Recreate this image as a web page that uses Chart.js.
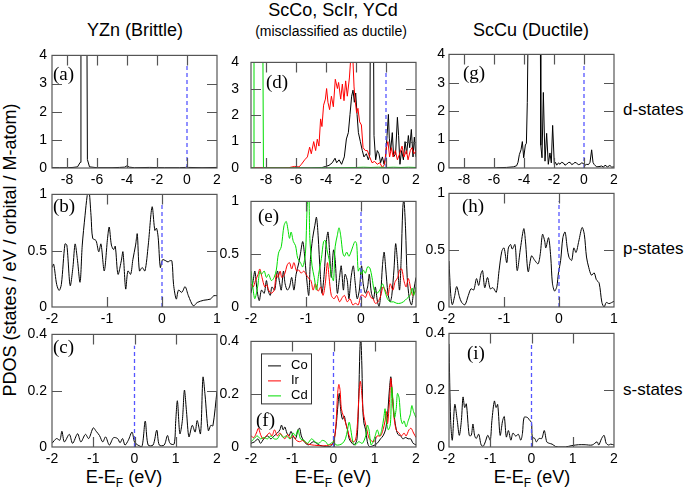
<!DOCTYPE html>
<html>
<head>
<meta charset="utf-8">
<script src="https://cdn.jsdelivr.net/npm/chart.js@4"></script>
<style>
body { margin: 0; background: #fff; width: 700px; height: 493px; position: relative; overflow: hidden; font-family: "Liberation Sans", Arial, sans-serif; }
.panel { position: absolute; }
.txt { position: absolute; white-space: nowrap; color: #000; line-height: 1; transform: translate(-50%, -50%); }
.row { position: absolute; white-space: nowrap; color: #000; line-height: 1; font-size: 17px; transform: translateY(-50%); }
.xl sub { font-size: 12px; vertical-align: -4px; line-height: 0; }
</style>
</head>
<body>
<div class="txt" style="left:135px;top:30px;font-size:18px">YZn (Brittle)</div>
<div class="txt" style="left:333px;top:10px;font-size:18px">ScCo, ScIr, YCd</div>
<div class="txt" style="left:331px;top:31px;font-size:14px">(misclassified as ductile)</div>
<div class="txt" style="left:531px;top:30px;font-size:18px">ScCu (Ductile)</div>
<div class="row" style="left:623px;top:109px">d-states</div>
<div class="row" style="left:623px;top:248px">p-states</div>
<div class="row" style="left:623px;top:389px">s-states</div>
<div class="txt" style="left:10px;top:250px;font-size:18px;transform:translate(-50%,-50%) rotate(-90deg)">PDOS (states / eV / orbital / M-atom)</div>
<div class="txt xl" style="left:124px;top:477px;font-size:18px">E-E<sub>F</sub> (eV)</div>
<div class="txt xl" style="left:333px;top:477px;font-size:18px">E-E<sub>F</sub> (eV)</div>
<div class="txt xl" style="left:532px;top:477px;font-size:18px">E-E<sub>F</sub> (eV)</div>

<script>
// axis ranges and ticks per row (d, p, s states)
const xRanges = [[-9, 2], [-2, 1], [-2, 2]];
const yMax = [4, 1, 0.4];
const xTicksD = [-8, -6, -4, -2, 0, 2];
const xTicksP = [-2, -1, 0, 1];
const xTicksS = [-2, -1, 0, 1, 2];
const yTicksD = [0, 1, 2, 3, 4];
const yTicksP = [0, 0.5, 1];
const yTicksS = [0, 0.2, 0.4];
const fermiTop = [3.62, 0.93, 0.36];

// YZn (brittle)
const yznD = [[-9,0.01],[-8.5,0.01],[-8,0.01],[-7.6,0.02],[-7.3,0.04],[-7.12,0.2],[-7.07,6],[-6.68,6],[-6.64,0.3],[-6.5,0.04],[-6,0.01],[-5,0.01],[-4.5,0.02],[-4.15,0.03],[-4,0.08],[-3.85,0.03],[-3.5,0.01],[-2.5,0.02],[-1.5,0.01],[-0.5,0.01],[-0.1,0.02],[0,0.05],[0.1,0.02],[1,0.01],[2,0.02]];
const yznP = [[-2,0.35],[-1.97,0.38],[-1.915,0.2],[-1.87,0.147],[-1.83,0.2],[-1.764,0.56],[-1.73,0.55],[-1.67,0.19],[-1.62,0.35],[-1.58,0.56],[-1.54,0.43],[-1.49,0.22],[-1.45,0.55],[-1.4,0.81],[-1.36,0.99],[-1.33,1.05],[-1.29,0.81],[-1.26,0.61],[-1.2,0.59],[-1.15,0.49],[-1.11,0.56],[-1.05,0.32],[-0.99,0.61],[-0.96,0.71],[-0.92,0.55],[-0.88,0.51],[-0.85,0.54],[-0.8,0.29],[-0.74,0.41],[-0.71,0.49],[-0.66,0.16],[-0.62,0.32],[-0.57,0.29],[-0.53,0.42],[-0.48,0.55],[-0.45,0.65],[-0.41,0.32],[-0.36,0.35],[-0.31,0.32],[-0.25,0.55],[-0.18,0.89],[-0.13,0.68],[-0.1,0.7],[-0.07,0.62],[-0.03,0.35],[0.01,0.42],[0.07,0.41],[0.11,0.4],[0.14,0.41],[0.18,0.41],[0.21,0.2],[0.26,0.07],[0.3,0.15],[0.36,0.13],[0.42,0.18],[0.48,0.1],[0.57,0.01],[0.64,0.04],[0.76,0.06],[0.88,0.07],[0.94,0.1],[1,0.1]];
const yznS = [[-2,0.013],[-1.89,0.03],[-1.81,0.024],[-1.76,0.056],[-1.7,0.018],[-1.58,0.045],[-1.5,0.013],[-1.38,0.047],[-1.3,0.018],[-1.19,0.045],[-1.11,0.03],[-1,0.068],[-0.93,0.056],[-0.85,0.041],[-0.77,0.018],[-0.7,0.036],[-0.61,0.007],[-0.51,0.033],[-0.41,0.03],[-0.35,0.015],[-0.29,0.03],[-0.23,0.007],[-0.15,0.024],[-0.06,0.053],[0,0.018],[0.08,0.007],[0.18,0.001],[0.26,0.092],[0.33,0.007],[0.45,0.007],[0.54,0.06],[0.6,0.007],[0.72,0.007],[0.8,0.041],[0.86,0.013],[0.96,0.01],[1,0.094],[1.04,0.164],[1.1,0.047],[1.16,0.094],[1.21,0.202],[1.26,0.127],[1.32,0.036],[1.4,0.077],[1.47,0.053],[1.52,0.094],[1.6,0.047],[1.66,0.248],[1.71,0.185],[1.79,0.058],[1.85,0.077],[1.9,0.075],[2,0.199]];

// ScCo / ScIr / YCd (misclassified)
const coD = [[-9,0],[-5,0],[-4.3,0.01],[-4.02,0.06],[-3.8,0.1],[-3.58,0.2],[-3.4,0.37],[-3.29,0.2],[-3.13,0.31],[-2.96,0.14],[-2.78,0.42],[-2.64,1.1],[-2.51,1.34],[-2.4,2.03],[-2.29,2.72],[-2.2,2.95],[-2.11,2.49],[-2.02,2.84],[-1.93,2.03],[-1.84,1.34],[-1.71,1.0],[-1.58,0.66],[-1.47,0.42],[-1.31,0.54],[-1.18,0.31],[-1.08,0.5],[-1.04,6],[-0.84,6],[-0.8,1.23],[-0.69,0.31],[-0.58,0.66],[-0.47,0.54],[-0.36,0.2],[-0.24,0.42],[-0.13,0.14],[-0.02,0.42],[0.07,1.23],[0.16,2.03],[0.22,1.13],[0.31,0.66],[0.42,1.34],[0.51,0.42],[0.64,0.54],[0.76,1.92],[0.84,1.23],[0.93,0.14],[1.04,0.66],[1.16,0.31],[1.27,1.0],[1.38,0.54],[1.49,1.23],[1.58,0.77],[1.69,1.46],[1.8,0.42],[1.89,1.17],[2,0.42]];
const irD = [[-9,0],[-7,0],[-6.5,0.01],[-6.09,0.06],[-5.8,0.04],[-5.64,0.14],[-5.42,0.31],[-5.24,0.42],[-5.09,0.79],[-4.98,0.54],[-4.82,1.0],[-4.69,0.66],[-4.58,1.09],[-4.47,0.83],[-4.36,1.86],[-4.27,1.57],[-4.16,2.38],[-4.04,2.61],[-3.96,3.01],[-3.87,2.49],[-3.76,2.21],[-3.64,2.72],[-3.51,2.32],[-3.38,3.36],[-3.24,3.01],[-3.16,3.24],[-3.02,2.61],[-2.91,3.18],[-2.8,2.55],[-2.69,3.3],[-2.58,2.72],[-2.44,3.41],[-2.31,4.5],[-2.22,4.3],[-2.13,3.07],[-2.04,2.49],[-1.96,2.09],[-1.87,2.26],[-1.76,1.75],[-1.64,1.63],[-1.53,0.77],[-1.38,0.66],[-1.24,0.66],[-1.09,0.42],[-0.93,0.2],[-0.76,0.25],[-0.58,0.14],[-0.42,0.2],[-0.24,0.02],[-0.09,0.14],[0.02,0.77],[0.13,1.0],[0.24,0.42],[0.36,0.77],[0.47,0.42],[0.62,0.66],[0.76,0.31],[0.91,0.54],[1.07,0.83],[1.2,0.42],[1.36,0.66],[1.47,0.31],[1.62,0.66],[1.73,0.77],[1.87,0.54],[2,0.66]];
const cdD = [[-9,0],[-8.85,0.01],[-8.8,6],[-8.22,6],[-8.17,0.02],[-8,0],[-5,0],[-3,0.01],[-2,0.02],[-1.5,0.03],[-1,0.02],[-0.5,0.03],[0,0.02],[0.5,0.03],[1,0.02],[1.5,0.03],[2,0.02]];

const coP = [[-2,0.13],[-1.96,0.25],[-1.93,0.34],[-1.89,0.16],[-1.85,0.06],[-1.81,0.16],[-1.76,0.13],[-1.72,0.25],[-1.69,0.16],[-1.65,0.11],[-1.62,0.19],[-1.57,0.16],[-1.52,0.34],[-1.48,0.23],[-1.45,0.16],[-1.41,0.34],[-1.38,0.22],[-1.34,0.16],[-1.3,0.19],[-1.26,0.28],[-1.22,0.16],[-1.18,0.31],[-1.13,0.42],[-1.1,0.51],[-1.06,0.62],[-1.03,0.51],[-0.99,0.28],[-0.95,0.11],[-0.92,0.45],[-0.88,0.65],[-0.84,0.77],[-0.81,0.85],[-0.78,0.68],[-0.74,0.31],[-0.71,0.13],[-0.67,0.31],[-0.63,0.62],[-0.6,0.71],[-0.57,0.51],[-0.54,0.28],[-0.5,0.54],[-0.47,0.45],[-0.43,0.13],[-0.39,0.28],[-0.36,0.39],[-0.32,0.16],[-0.29,0.31],[-0.25,0.25],[-0.22,0.078],[-0.18,0.28],[-0.14,0.39],[-0.11,0.25],[-0.07,0.078],[-0.03,0.16],[0.01,0.39],[0.04,0.22],[0.08,0.13],[0.12,0.19],[0.15,0.31],[0.19,0.13],[0.23,0.078],[0.26,0.19],[0.3,0.049],[0.33,0.005],[0.36,0.13],[0.39,0.39],[0.42,0.52],[0.45,0.36],[0.49,0.13],[0.53,0.049],[0.56,0.11],[0.6,0.36],[0.63,0.6],[0.66,0.45],[0.7,0.16],[0.73,0.45],[0.76,0.94],[0.78,1.02],[0.81,0.74],[0.84,0.28],[0.88,0.078],[0.92,0.02],[0.96,0.16],[1,0.28]];
const irP = [[-2,0.22],[-1.96,0.19],[-1.92,0.25],[-1.87,0.31],[-1.84,0.36],[-1.8,0.28],[-1.75,0.19],[-1.71,0.21],[-1.68,0.16],[-1.63,0.13],[-1.58,0.16],[-1.54,0.31],[-1.51,0.28],[-1.47,0.34],[-1.44,0.28],[-1.39,0.31],[-1.34,0.4],[-1.3,0.42],[-1.26,0.36],[-1.22,0.42],[-1.17,0.34],[-1.13,0.35],[-1.09,0.32],[-1.04,0.34],[-1,0.31],[-0.95,0.27],[-0.91,0.25],[-0.87,0.16],[-0.83,0.22],[-0.78,0.15],[-0.73,0.19],[-0.69,0.11],[-0.65,0.22],[-0.61,0.42],[-0.58,0.28],[-0.54,0.11],[-0.49,0.078],[-0.44,0.11],[-0.39,0.049],[-0.34,0.09],[-0.3,0.11],[-0.25,0.049],[-0.2,0.078],[-0.15,0.02],[-0.1,0.035],[-0.05,0.02],[0,0.11],[0.04,0.11],[0.08,0.09],[0.13,0.15],[0.18,0.09],[0.22,0.078],[0.26,0.035],[0.31,0.049],[0.36,0.11],[0.4,0.19],[0.44,0.16],[0.49,0.11],[0.53,0.22],[0.58,0.16],[0.62,0.24],[0.67,0.28],[0.7,0.35],[0.74,0.36],[0.78,0.25],[0.82,0.19],[0.86,0.27],[0.91,0.16],[0.94,0.11],[1,0.16]];
const cdP = [[-2,0.34],[-1.96,0.16],[-1.93,0.078],[-1.88,0.19],[-1.84,0.34],[-1.81,0.31],[-1.76,0.34],[-1.72,0.28],[-1.68,0.31],[-1.63,0.25],[-1.58,0.28],[-1.54,0.35],[-1.5,0.51],[-1.45,0.57],[-1.4,0.77],[-1.36,0.81],[-1.33,0.74],[-1.3,0.65],[-1.27,0.71],[-1.23,0.62],[-1.19,0.58],[-1.15,0.46],[-1.1,0.42],[-1.06,0.38],[-1.01,0.51],[-0.98,0.94],[-0.95,1.1],[-0.93,0.65],[-0.89,0.39],[-0.85,0.28],[-0.81,0.16],[-0.77,0.31],[-0.72,0.46],[-0.68,0.62],[-0.65,0.63],[-0.61,0.52],[-0.58,0.45],[-0.54,0.31],[-0.5,0.25],[-0.47,0.57],[-0.43,0.68],[-0.4,0.75],[-0.37,0.68],[-0.33,0.51],[-0.3,0.48],[-0.26,0.52],[-0.22,0.48],[-0.19,0.51],[-0.15,0.57],[-0.11,0.62],[-0.08,0.6],[-0.05,0.34],[-0.02,0.37],[0.01,0.31],[0.04,0.35],[0.08,0.32],[0.12,0.38],[0.16,0.37],[0.2,0.28],[0.24,0.16],[0.29,0.13],[0.34,0.16],[0.39,0.22],[0.43,0.16],[0.48,0.078],[0.53,0.049],[0.59,0.049],[0.65,0.035],[0.71,0.035],[0.77,0.049],[0.83,0.078],[0.89,0.11],[0.93,0.18],[0.96,0.11],[1,0.19]];

const coS = [[-2,0.014],[-1.91,0.02],[-1.83,0.031],[-1.77,0.014],[-1.69,0.031],[-1.6,0.042],[-1.52,0.031],[-1.44,0.042],[-1.36,0.053],[-1.3,0.065],[-1.26,0.083],[-1.22,0.065],[-1.18,0.076],[-1.13,0.053],[-1.08,0.042],[-1.03,0.059],[-0.98,0.042],[-0.92,0.031],[-0.86,0.065],[-0.82,0.071],[-0.78,0.042],[-0.71,0.02],[-0.61,0.008],[-0.49,0.02],[-0.41,0.014],[-0.33,0.006],[-0.2,0.002],[-0.08,0.002],[0,0.02],[0.06,0.076],[0.11,0.163],[0.14,0.203],[0.18,0.134],[0.22,0.105],[0.26,0.117],[0.3,0.088],[0.34,0.065],[0.38,0.031],[0.45,0.014],[0.51,0.008],[0.57,0.031],[0.61,0.18],[0.64,0.37],[0.66,0.42],[0.69,0.295],[0.71,0.145],[0.74,0.088],[0.78,0.065],[0.82,0.02],[0.87,0.002],[0.98,0.006],[1.06,0.014],[1.14,0.031],[1.2,0.042],[1.26,0.065],[1.31,0.122],[1.36,0.226],[1.39,0.266],[1.42,0.209],[1.46,0.134],[1.51,0.076],[1.56,0.048],[1.63,0.042],[1.68,0.031],[1.75,0.036],[1.81,0.031],[1.87,0.031],[1.93,0.014],[2,0.008]];
const irS = [[-2,0.042],[-1.93,0.036],[-1.87,0.053],[-1.82,0.071],[-1.77,0.048],[-1.71,0.031],[-1.63,0.042],[-1.55,0.053],[-1.49,0.042],[-1.43,0.065],[-1.36,0.042],[-1.3,0.053],[-1.24,0.042],[-1.18,0.031],[-1.11,0.048],[-1.05,0.031],[-0.98,0.042],[-0.9,0.025],[-0.82,0.02],[-0.74,0.025],[-0.66,0.014],[-0.53,0.008],[-0.4,0.006],[-0.25,0.004],[-0.09,0.008],[0,0.014],[0.06,0.088],[0.1,0.203],[0.13,0.237],[0.16,0.214],[0.19,0.145],[0.24,0.117],[0.29,0.094],[0.34,0.065],[0.38,0.042],[0.45,0.02],[0.53,0.025],[0.58,0.088],[0.62,0.203],[0.65,0.249],[0.68,0.214],[0.72,0.134],[0.76,0.099],[0.81,0.065],[0.87,0.031],[0.98,0.02],[1.06,0.042],[1.14,0.042],[1.2,0.065],[1.25,0.099],[1.28,0.134],[1.31,0.088],[1.36,0.18],[1.39,0.26],[1.42,0.214],[1.46,0.122],[1.52,0.065],[1.59,0.053],[1.65,0.042],[1.71,0.053],[1.76,0.042],[1.83,0.065],[1.88,0.071],[1.94,0.053],[2,0.036]];
const cdS = [[-2,0.02],[-1.93,0.031],[-1.85,0.042],[-1.77,0.031],[-1.69,0.036],[-1.6,0.031],[-1.52,0.042],[-1.44,0.031],[-1.36,0.031],[-1.29,0.048],[-1.22,0.036],[-1.14,0.042],[-1.06,0.031],[-0.98,0.053],[-0.92,0.042],[-0.86,0.065],[-0.8,0.031],[-0.71,0.025],[-0.63,0.014],[-0.53,0.031],[-0.45,0.02],[-0.36,0.014],[-0.27,0.025],[-0.19,0.02],[-0.13,0.008],[-0.06,0.014],[0,0.02],[0.06,0.008],[0.14,0.008],[0.22,0.014],[0.29,0.031],[0.34,0.065],[0.38,0.094],[0.42,0.065],[0.47,0.02],[0.53,0.008],[0.61,0.02],[0.7,0.014],[0.78,0.042],[0.82,0.083],[0.86,0.065],[0.91,0.008],[0.96,0.02],[1.01,0.042],[1.06,0.065],[1.12,0.042],[1.17,0.065],[1.22,0.111],[1.25,0.145],[1.28,0.099],[1.33,0.065],[1.38,0.088],[1.41,0.226],[1.44,0.18],[1.48,0.111],[1.52,0.145],[1.55,0.203],[1.59,0.186],[1.63,0.111],[1.67,0.088],[1.71,0.099],[1.76,0.076],[1.81,0.099],[1.86,0.122],[1.9,0.157],[1.94,0.134],[2,0.111]];

// ScCu (ductile)
const cuD = [[-9,0],[-7,0],[-6,0],[-5.82,0.01],[-5.16,0.02],[-4.71,0.04],[-4.49,0.08],[-4.4,0.2],[-4.31,0.47],[-4.2,0.64],[-4.11,0.93],[-4.02,0.36],[-3.91,0.81],[-3.84,0.87],[-3.78,2.31],[-3.7,6],[-2.92,6],[-2.88,0.8],[-2.8,0.36],[-2.71,2.66],[-2.6,0.24],[-2.49,1.22],[-2.38,0.13],[-2.27,0.53],[-2.18,0.18],[-2.09,1.5],[-1.98,0.13],[-1.9,0.2],[-1.82,0.1],[-1.7,0.18],[-1.6,0.13],[-1.5,0.2],[-1.38,0.18],[-1.27,0.1],[-1.16,0.13],[-1.05,0.19],[-0.93,0.2],[-0.82,0.12],[-0.71,0.15],[-0.6,0.2],[-0.49,0.17],[-0.38,0.12],[-0.27,0.13],[-0.15,0.18],[-0.04,0.16],[0.07,0.1],[0.18,0.13],[0.3,0.12],[0.4,0.2],[0.51,0.64],[0.6,0.2],[0.67,0.13],[0.84,0.04],[1.0,0.05],[1.18,0.07],[1.3,0.03],[1.4,0.1],[1.56,0.04],[1.73,0.09],[1.85,0.03],[2,0.04]];
const cuP = [[-2,0.405],[-1.97,0.12],[-1.94,0.02],[-1.9,0.09],[-1.86,0.18],[-1.81,0.09],[-1.77,0.04],[-1.71,0.02],[-1.65,0.1],[-1.6,0.16],[-1.55,0.15],[-1.5,0.25],[-1.46,0.19],[-1.42,0.29],[-1.39,0.32],[-1.35,0.17],[-1.3,0.26],[-1.25,0.16],[-1.2,0.17],[-1.14,0.13],[-1.09,0.32],[-1.04,0.49],[-1,0.52],[-0.95,0.39],[-0.92,0.52],[-0.88,0.55],[-0.85,0.51],[-0.8,0.55],[-0.76,0.32],[-0.7,0.52],[-0.64,0.69],[-0.61,0.58],[-0.56,0.31],[-0.5,0.45],[-0.44,0.41],[-0.38,0.38],[-0.34,0.47],[-0.3,0.64],[-0.26,0.58],[-0.24,0.52],[-0.19,0.61],[-0.15,0.44],[-0.12,0.21],[-0.08,0.14],[-0.04,0.18],[-0.01,0.3],[0.03,0.41],[0.07,0.61],[0.11,0.66],[0.15,0.52],[0.18,0.44],[0.23,0.41],[0.27,0.52],[0.31,0.48],[0.36,0.58],[0.42,0.7],[0.46,0.64],[0.5,0.44],[0.54,0.35],[0.59,0.28],[0.64,0.3],[0.68,0.24],[0.73,0.21],[0.78,0.04],[0.82,0],[0.86,0.04],[0.91,0.03],[1,0.05]];
const cuS = [[-2,0.363],[-1.96,0.093],[-1.92,0.024],[-1.86,0.15],[-1.8,0.093],[-1.75,0.041],[-1.7,0.093],[-1.66,0.176],[-1.62,0.139],[-1.58,0.152],[-1.51,0.041],[-1.46,0.041],[-1.42,0.081],[-1.38,0.041],[-1.34,0.03],[-1.28,0.045],[-1.22,0.007],[-1.17,0.003],[-1.12,0.018],[-1.06,0.041],[-1,0.024],[-0.96,0.093],[-0.9,0.162],[-0.86,0.139],[-0.82,0.15],[-0.76,0.041],[-0.7,0.093],[-0.66,0.107],[-0.61,0.035],[-0.56,0.058],[-0.5,0.024],[-0.45,0.049],[-0.38,0.038],[-0.32,0.045],[-0.26,0.024],[-0.22,0.047],[-0.18,0.104],[-0.1,0.104],[-0.04,0.093],[0,0.087],[0.02,0.035],[0.08,0.03],[0.12,0.018],[0.18,0.03],[0.25,0.03],[0.31,0.058],[0.37,0.018],[0.43,0.013],[0.5,0.01],[0.58,0.002],[0.66,0],[0.82,0],[0.98,0.005],[1.14,0.008],[1.3,0.008],[1.47,0.007],[1.59,0.018],[1.63,0.007],[1.7,0.03],[1.76,0.041],[1.81,0.013],[1.87,0.007],[1.92,0.01],[2,0.007]];

const colLeft = [52, 251, 449];
const rowTop = [52, 191, 331];
const plotW = 165, plotH = 116;
const yLabelPad = [5, 12, 4];
const rowTension = [0, 0.3, 0.3];

const lineColors = { Co: '#000000', Ir: '#ff0000', Cd: '#00dd00' };

const framePlugin = {
    id: 'frame',
    afterDatasetsDraw(chart, args, opts) {
        const { ctx, chartArea: a, scales: { x, y } } = chart;
        ctx.save();
        ctx.strokeStyle = '#555';
        ctx.lineWidth = 1.2;
        ctx.strokeRect(a.left, a.top, a.right - a.left, a.bottom - a.top);
        ctx.beginPath();
        x.ticks.forEach(t => {
            if (t.value <= x.min || t.value >= x.max) return;
            const px = Math.round(x.getPixelForValue(t.value)) + 0.5;
            ctx.moveTo(px, a.bottom); ctx.lineTo(px, a.bottom - 10);
            ctx.moveTo(px, a.top); ctx.lineTo(px, a.top + 10);
        });
        y.ticks.forEach(t => {
            if (t.value <= y.min || t.value >= y.max) return;
            const py = Math.round(y.getPixelForValue(t.value)) + 0.5;
            ctx.moveTo(a.left, py); ctx.lineTo(a.left + 10, py);
            ctx.moveTo(a.right, py); ctx.lineTo(a.right - 10, py);
        });
        ctx.stroke();

        ctx.fillStyle = '#000';
        ctx.textBaseline = 'middle';
        ctx.font = '19px "Liberation Serif", serif';
        ctx.fillText(opts.tag, a.left + opts.tx, a.top + opts.ty);

        if (opts.legend) {
            const bx = a.left + 10, by = a.top + 12;
            ctx.strokeStyle = '#333';
            ctx.lineWidth = 1;
            ctx.strokeRect(bx + 0.5, by + 0.5, 50, 50);
            ctx.font = '13px "Liberation Sans", Arial, sans-serif';
            chart.data.datasets.filter(d => d.label).forEach((d, i) => {
                const ly = by + 12 + i * 15;
                ctx.strokeStyle = d.borderColor;
                ctx.beginPath();
                ctx.moveTo(bx + 7, ly + 0.5); ctx.lineTo(bx + 20, ly + 0.5);
                ctx.stroke();
                ctx.fillText(d.label, bx + 30, ly);
            });
        }
        ctx.restore();
    }
};

function makePanel(col, row, series, tag, tx, ty, legend) {
    const xTicks = [xTicksD, xTicksP, xTicksS][row];
    const yTicks = [yTicksD, yTicksP, yTicksS][row];
    const div = document.createElement('div');
    div.className = 'panel';
    div.style.left = (colLeft[col] - 50) + 'px';
    div.style.top = (rowTop[row] - 10) + 'px';
    const canvas = document.createElement('canvas');
    canvas.width = plotW + 60;
    canvas.height = plotH + 35;
    div.appendChild(canvas);
    document.body.appendChild(div);

    const datasets = series.map((s, i) => ({
        label: s.name,
        data: s.data.map(([x, y]) => ({ x, y })),
        borderColor: lineColors[s.name],
        borderWidth: 1,
        pointRadius: 0,
        tension: rowTension[row],
        order: 3 - i
    }));
    datasets.push({
        label: '',
        data: [{ x: 0, y: 0 }, { x: 0, y: fermiTop[row] }],
        borderColor: '#5555ff',
        borderWidth: 1.3,
        borderDash: [4, 3],
        pointRadius: 0,
        order: 0
    });

    const tickFont = { size: 14, family: '"Liberation Sans", Arial, sans-serif' };
    new Chart(canvas, {
        type: 'line',
        data: { datasets },
        options: {
            responsive: false,
            animation: false,
            events: [],
            layout: { padding: { left: 0, right: 10, top: 10, bottom: 0 } },
            plugins: {
                legend: { display: false },
                tooltip: { enabled: false },
                frame: { tag, tx, ty, legend }
            },
            scales: {
                x: {
                    type: 'linear',
                    min: xRanges[row][0],
                    max: xRanges[row][1],
                    afterBuildTicks: s => { s.ticks = xTicks.map(v => ({ value: v })); },
                    afterFit: s => { s.height = 25; },
                    grid: { display: false, drawTicks: false },
                    border: { display: false },
                    ticks: { color: '#000', font: tickFont, padding: 4, maxRotation: 0, autoSkip: false }
                },
                y: {
                    min: 0,
                    max: yMax[row],
                    afterBuildTicks: s => { s.ticks = yTicks.map(v => ({ value: v })); },
                    afterFit: s => { s.width = 50; },
                    grid: { display: false, drawTicks: false },
                    border: { display: false },
                    ticks: { color: '#000', font: tickFont, padding: yLabelPad[col], callback: v => String(+v.toFixed(2)) }
                }
            }
        },
        plugins: [framePlugin]
    });
}

const S = (name, data) => ({ name, data });

makePanel(0, 0, [S('Co', yznD)], '(a)', 1, 20, false);
makePanel(0, 1, [S('Co', yznP)], '(b)', 1, 13, false);
makePanel(0, 2, [S('Co', yznS)], '(c)', 1, 14, false);
makePanel(1, 0, [S('Co', coD), S('Ir', irD), S('Cd', cdD)], '(d)', 15, 21, false);
makePanel(1, 1, [S('Co', coP), S('Ir', irP), S('Cd', cdP)], '(e)', 7, 16, false);
makePanel(1, 2, [S('Co', coS), S('Ir', irS), S('Cd', cdS)], '(f)', 5, 80, true);
makePanel(2, 0, [S('Co', cuD)], '(g)', 14, 20, false);
makePanel(2, 1, [S('Co', cuP)], '(h)', 13, 14, false);
makePanel(2, 2, [S('Co', cuS)], '(i)', 18, 21, false);
</script>
</body>
</html>
